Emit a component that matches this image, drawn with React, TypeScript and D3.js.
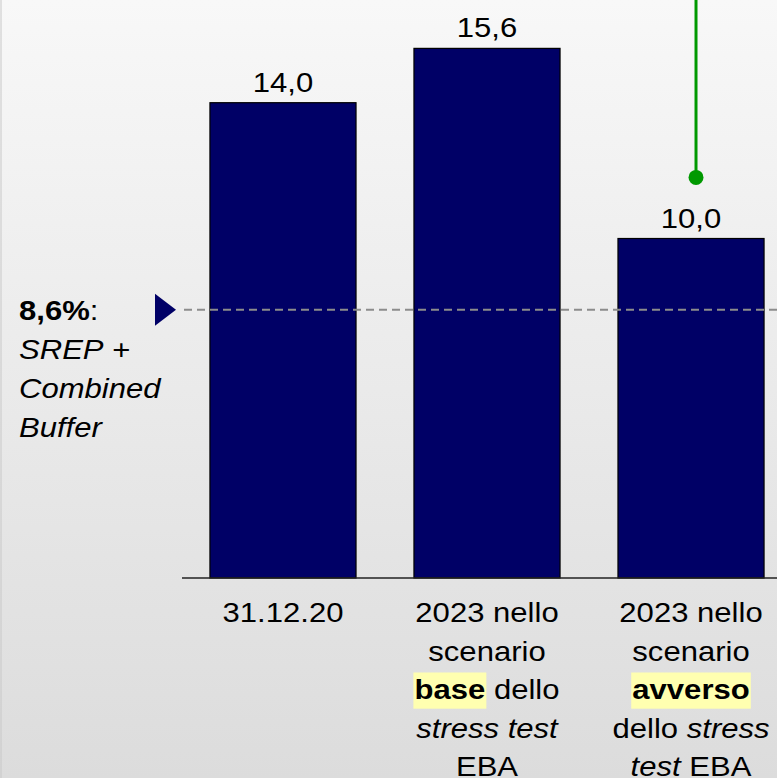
import React, { useEffect, useRef } from "react";
import * as d3 from "d3";

const W = 777;
const H = 778;

// Data
const categories = ["31.12.20", "2023 base", "2023 avverso"];
const values = [14.0, 15.6, 10.0];
const valueLabels = ["14,0", "15,6", "10,0"];
// threshold line level (labelled 8,6%)
const thresholdLevel = 7.9;
const thresholdLabel = "8,6%";
// green marker level above the third bar
const greenMarkerLevel = 11.8;

type Seg = { t: string; b?: boolean; i?: boolean; hl?: boolean };
const categoryLines: Seg[][][] = [
  [[{ t: "31.12.20" }]],
  [
    [{ t: "2023 nello" }],
    [{ t: "scenario" }],
    [{ t: "base", b: true, hl: true }, { t: " dello" }],
    [{ t: "stress test", i: true }],
    [{ t: "EBA" }],
  ],
  [
    [{ t: "2023 nello" }],
    [{ t: "scenario" }],
    [{ t: "avverso", b: true, hl: true }],
    [{ t: "dello " }, { t: "stress", i: true }],
    [{ t: "test", i: true }, { t: " EBA" }],
  ],
];
const leftLabelLines: Seg[][] = [
  [{ t: thresholdLabel, b: true }, { t: ":" }],
  [{ t: "SREP", i: true }, { t: " +" }],
  [{ t: "Combined", i: true }],
  [{ t: "Buffer", i: true }],
];

const FONT = "'Liberation Sans', Arial, Helvetica, sans-serif";
const FS = 28.5;
const SX = 1.09;
const NAVY = "#000066";

export default function App() {
  const ref = useRef<SVGSVGElement>(null);

  useEffect(() => {
    const svg = d3.select(ref.current);
    svg.selectAll("*").remove();

    const defs = svg.append("defs");
    const grad = defs
      .append("linearGradient")
      .attr("id", "bg")
      .attr("x1", 0)
      .attr("y1", 0)
      .attr("x2", 0)
      .attr("y2", 1);
    grad.append("stop").attr("offset", "0%").attr("stop-color", "#f8f8f8");
    grad.append("stop").attr("offset", "100%").attr("stop-color", "#dcdcdc");

    svg.append("rect").attr("width", W).attr("height", H).attr("fill", "url(#bg)");
    svg
      .append("line")
      .attr("x1", 1)
      .attr("x2", 1)
      .attr("y1", 0)
      .attr("y2", H)
      .attr("stroke", "#c8c8c8")
      .attr("stroke-width", 1);

    const baseY = 578;
    const x = d3
      .scaleBand<string>()
      .domain(categories)
      .range([182, 792])
      .paddingInner(0.284)
      .paddingOuter(0.137);
    const y = d3.scaleLinear().domain([0, 17]).range([baseY, baseY - 17 * 33.95]);

    const bw = x.bandwidth();

    // bars
    svg
      .selectAll("rect.bar")
      .data(values)
      .join("rect")
      .attr("class", "bar")
      .attr("x", (_, i) => x(categories[i])!)
      .attr("y", (d) => y(d))
      .attr("width", bw)
      .attr("height", (d) => y(0) - y(d))
      .attr("fill", NAVY)
      .attr("stroke", "#000")
      .attr("stroke-width", 1.2);

    // axis baseline
    svg
      .append("line")
      .attr("x1", 182)
      .attr("x2", W)
      .attr("y1", y(0))
      .attr("y2", y(0))
      .attr("stroke", "#222")
      .attr("stroke-width", 1.6);

    // threshold dashed line
    const ty = y(thresholdLevel);
    svg
      .append("line")
      .attr("x1", 184)
      .attr("x2", W)
      .attr("y1", ty)
      .attr("y2", ty)
      .attr("stroke", "#8c8c8c")
      .attr("stroke-width", 2)
      .attr("stroke-dasharray", "8,5");

    // triangle marker
    svg
      .append("path")
      .attr("d", d3.line()([[155, ty - 16], [176, ty], [155, ty + 16]]) + "Z")
      .attr("fill", NAVY);

    // green marker
    const gx = x(categories[2])! + bw / 2 + 5;
    svg
      .append("line")
      .attr("x1", gx)
      .attr("x2", gx)
      .attr("y1", 0)
      .attr("y2", y(greenMarkerLevel))
      .attr("stroke", "#009900")
      .attr("stroke-width", 3);
    svg
      .append("circle")
      .attr("cx", gx)
      .attr("cy", y(greenMarkerLevel))
      .attr("r", 7.5)
      .attr("fill", "#009900");

    // rich text helper
    const drawLine = (
      segs: Seg[],
      tx: number,
      tyy: number,
      anchor: "middle" | "start"
    ) => {
      const g = svg
        .append("g")
        .attr("transform", `translate(${tx},${tyy}) scale(${SX},1)`);
      const text = g
        .append("text")
        .attr("text-anchor", anchor)
        .attr("font-family", FONT)
        .attr("font-size", FS)
        .attr("fill", "#000")
        .attr("xml:space", "preserve")
        .style("white-space", "pre");
      const spans: [SVGTSpanElement, Seg][] = [];
      segs.forEach((s) => {
        const sp = text
          .append("tspan")
          .attr("font-weight", s.b ? "bold" : "normal")
          .attr("font-style", s.i ? "italic" : "normal")
          .text(s.t);
        spans.push([sp.node() as SVGTSpanElement, s]);
      });
      spans.forEach(([node, s]) => {
        if (!s.hl) return;
        const n = node.getNumberOfChars();
        const start = node.getStartPositionOfChar(0).x;
        const end = node.getEndPositionOfChar(n - 1).x;
        g.insert("rect", "text")
          .attr("x", start - 1)
          .attr("y", -FS * 0.93)
          .attr("width", end - start + 2)
          .attr("height", FS * 1.27)
          .attr("fill", "#ffffb0");
      });
    };

    // value labels
    values.forEach((v, i) => {
      drawLine(
        [{ t: valueLabels[i] }],
        x(categories[i])! + bw / 2,
        y(v) - 11,
        "middle"
      );
    });

    // category labels
    const lh = 38.5;
    categoryLines.forEach((lines, i) => {
      lines.forEach((segs, j) => {
        drawLine(segs, x(categories[i])! + bw / 2, 622 + j * lh, "middle");
      });
    });

    // left label
    leftLabelLines.forEach((segs, j) => {
      drawLine(segs, 19, 320 + j * 39, "start");
    });
  }, []);

  return (
    <svg
      ref={ref}
      width={W}
      height={H}
      style={{ position: "absolute", left: 0, top: 0, display: "block" }}
    />
  );
}
